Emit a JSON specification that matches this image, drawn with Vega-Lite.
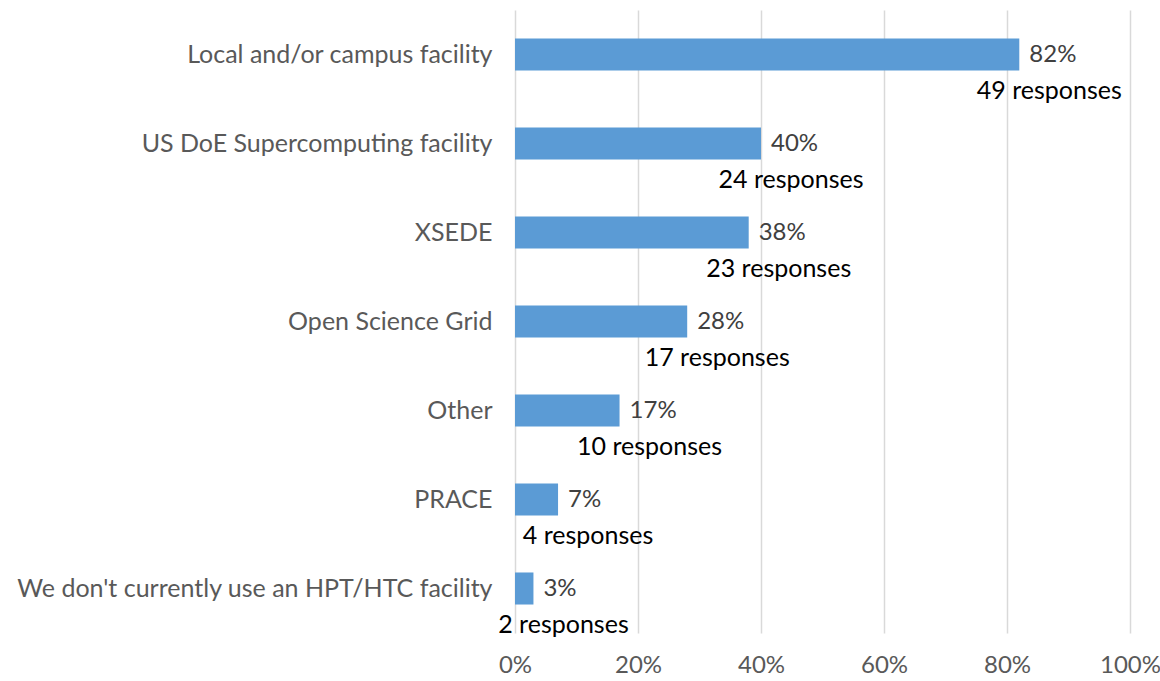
{
  "$schema": "https://vega.github.io/schema/vega-lite/v6.json",
  "autosize": {"type": "none"},
  "padding": {"left": 515, "top": 10, "right": 30, "bottom": 48},
  "width": 615,
  "height": 623,
  "background": "white",
  "config": {"view": {"stroke": null}, "font": "Lato"},
  "data": {"values": [
    {"facility": "Local and/or campus facility", "pct": 0.82, "pctLabel": "82%", "resp": "49 responses"},
    {"facility": "US DoE Supercomputing facility", "pct": 0.40, "pctLabel": "40%", "resp": "24 responses"},
    {"facility": "XSEDE", "pct": 0.38, "pctLabel": "38%", "resp": "23 responses"},
    {"facility": "Open Science Grid", "pct": 0.28, "pctLabel": "28%", "resp": "17 responses"},
    {"facility": "Other", "pct": 0.17, "pctLabel": "17%", "resp": "10 responses"},
    {"facility": "PRACE", "pct": 0.07, "pctLabel": "7%", "resp": "4 responses"},
    {"facility": "We don't currently use an HPT/HTC facility", "pct": 0.03, "pctLabel": "3%", "resp": "2 responses"}
  ]},
  "encoding": {
    "y": {"field": "facility", "type": "nominal", "sort": null,
      "scale": {"paddingInner": 0.64, "paddingOuter": 0.32},
      "axis": {"title": null, "ticks": false, "domain": false, "labelFontSize": 25, "labelColor": "#595959", "labelPadding": 23, "labelLimit": 0, "labelFont": "Lato"}},
    "x": {"field": "pct", "type": "quantitative",
      "scale": {"domain": [0, 1], "nice": false},
      "axis": {"title": null, "format": ".0%", "values": [0, 0.2, 0.4, 0.6, 0.8, 1], "ticks": false, "domain": false, "grid": true, "gridColor": "#d9d9d9", "gridWidth": 1.5, "labelFontSize": 24, "labelColor": "#595959", "labelPadding": 20, "labelFlush": false, "labelFont": "Lato"}}
  },
  "layer": [
    {"mark": {"type": "bar", "color": "#5B9BD5"}},
    {"mark": {"type": "text", "align": "left", "baseline": "middle", "dx": 10, "fontSize": 24, "color": "#404040", "font": "Lato"},
      "encoding": {"text": {"field": "pctLabel"}}},
    {"mark": {"type": "text", "align": "center", "baseline": "middle", "dx": 30, "dy": 36, "fontSize": 25, "color": "#000000", "font": "Lato"},
      "encoding": {"text": {"field": "resp"}}}
  ]
}
